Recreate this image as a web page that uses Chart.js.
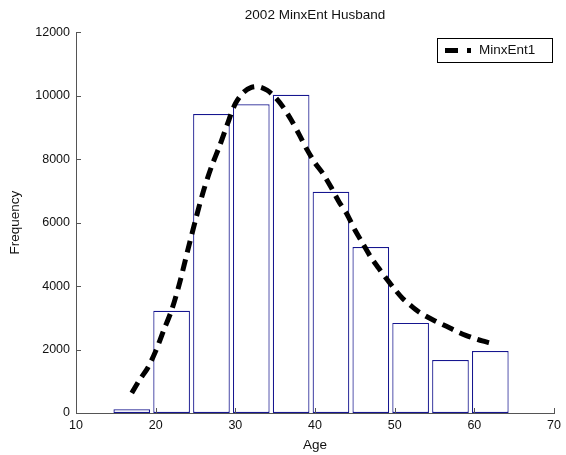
<!DOCTYPE html>
<html><head><meta charset="utf-8">
<script src="https://cdn.jsdelivr.net/npm/chart.js@4"></script>
<style>html,body{margin:0;padding:0;background:#fff}#c{display:block}</style>
</head><body>
<canvas id="c" width="566" height="455"></canvas>
<script>
const chartTitle = "2002 MinxEnt Husband";
const xLabel = "Age";
const yLabel = "Frequency";
const legendName = "MinxEnt1";
const binCenters = [17, 22, 27, 32, 37, 42, 47, 52, 57, 62];
const frequencies = [120, 3220, 9420, 9730, 10030, 6970, 5230, 2840, 1670, 1950];
const fitAges = [17,18,19,20,21,22,23,24,25,26,27,28,29,30,31,32,33,34,35,36,37,38,39,40,41,42,43,44,45,46,47,48,49,50,51,52,53,54,55,56,57,58,59,60,61,62];
const fitValues = [630,1050,1420,1950,2600,3240,4090,5100,6080,7000,7760,8400,9100,9750,10100,10260,10280,10170,9950,9640,9240,8780,8300,7880,7540,7120,6660,6270,5770,5340,4910,4560,4220,3900,3610,3390,3190,3040,2910,2790,2670,2545,2440,2350,2270,2205];
const xTicks = [10, 20, 30, 40, 50, 60, 70];
const yTicks = [0, 2000, 4000, 6000, 8000, 10000, 12000];

const FONT = "Arial, 'Liberation Sans', sans-serif";
const axisColor = '#555';

const centerTitle = {
  id: 'centerTitle',
  afterLayout(chart) {
    const t = chart.titleBlock;
    if (t) { t.left = chart.chartArea.left; t.right = chart.chartArea.right; }
  }
};

const inwardTicks = {
  id: 'inwardTicks',
  afterDraw(chart) {
    const ctx = chart.ctx, a = chart.chartArea;
    const xs = chart.scales.x, ys = chart.scales.y;
    ctx.save();
    ctx.strokeStyle = axisColor; ctx.lineWidth = 1;
    ctx.beginPath();
    xTicks.forEach(v => { const p = Math.round(xs.getPixelForValue(v)) + 0.5; ctx.moveTo(p, a.bottom); ctx.lineTo(p, a.bottom - 5); });
    yTicks.forEach(v => { const p = Math.round(ys.getPixelForValue(v)) + 0.5; ctx.moveTo(a.left, p); ctx.lineTo(a.left + 5, p); });
    ctx.stroke();
    // legend box
    const bx = 437, by = 38, bw = 115, bh = 24;
    ctx.fillStyle = '#fff';
    ctx.fillRect(bx, by, bw, bh);
    ctx.strokeStyle = '#000'; ctx.lineWidth = 1;
    ctx.strokeRect(bx + 0.5, by + 0.5, bw, bh);
    const cy = by + bh / 2 + 0.5;
    ctx.lineWidth = 5; ctx.lineCap = 'butt';
    ctx.beginPath(); ctx.moveTo(445, cy); ctx.lineTo(458, cy); ctx.moveTo(467, cy); ctx.lineTo(471, cy); ctx.stroke();
    ctx.fillStyle = '#111'; ctx.font = '13.5px ' + FONT; ctx.textBaseline = 'middle'; ctx.textAlign = 'left';
    ctx.fillText(legendName, 479, cy);
    ctx.restore();
  }
};

new Chart(document.getElementById('c'), {
  data: {
    datasets: [
      {
        type: 'line', label: legendName,
        data: fitAges.map((x, i) => ({x, y: fitValues[i]})),
        borderColor: '#000', borderWidth: 5, borderDash: [12, 7], borderCapStyle: 'butt',
        pointRadius: 0, tension: 0.3, fill: false, order: 0
      },
      {
        type: 'bar', label: 'hist',
        data: binCenters.map((x, i) => ({x, y: frequencies[i]})),
        backgroundColor: '#fff', borderColor: '#16168f', borderWidth: 1.2, borderSkipped: false,
        barPercentage: 0.92, categoryPercentage: 1.0, order: 1
      }
    ]
  },
  options: {
    responsive: false, animation: false, devicePixelRatio: 1,
    layout: { padding: { left: 0, right: 8, top: 0, bottom: 0 } },
    plugins: {
      legend: { display: false },
      tooltip: { enabled: false },
      title: { display: true, text: chartTitle, color: '#111', font: { family: FONT, size: 13.5, weight: 'normal' }, padding: { top: 7, bottom: 9 } }
    },
    scales: {
      x: {
        type: 'linear', min: 10, max: 70, offset: false,
        afterBuildTicks(s) { s.ticks = xTicks.map(v => ({value: v})); },
        afterFit(s) { s.height = 42; },
        grid: { display: false, drawTicks: false },
        border: { display: true, color: axisColor },
        ticks: { color: '#111', padding: 5, font: { family: FONT, size: 12.5 }, maxRotation: 0, callback: v => String(v) },
        title: { display: true, text: xLabel, color: '#111', font: { family: FONT, size: 13.5 }, padding: { top: 2, bottom: 2 } }
      },
      y: {
        type: 'linear', min: 0, max: 12000,
        afterBuildTicks(s) { s.ticks = yTicks.map(v => ({value: v})); },
        afterFit(s) { s.width = 76; },
        grid: { display: false, drawTicks: false },
        border: { display: true, color: axisColor },
        ticks: { color: '#111', padding: 6, font: { family: FONT, size: 12.5 }, callback: v => String(v) },
        title: { display: true, text: yLabel, color: '#111', font: { family: FONT, size: 13.5 }, padding: { top: 7, bottom: 0 } }
      }
    }
  },
  plugins: [centerTitle, inwardTicks]
});
</script>
</body></html>
